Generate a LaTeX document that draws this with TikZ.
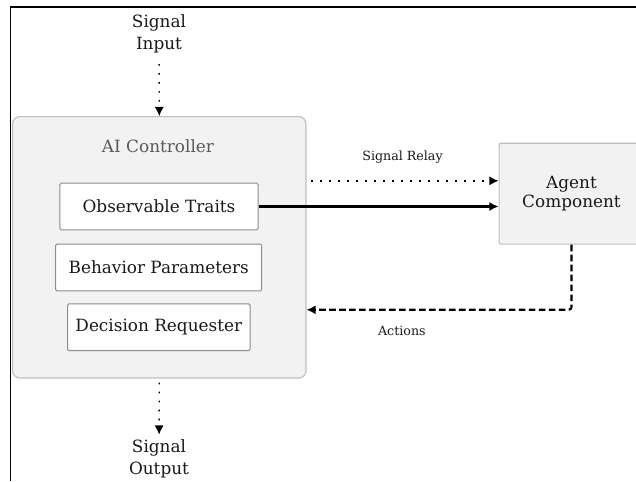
\documentclass[tikz,border=0pt]{standalone}
\usepackage{fontspec}
\setmainfont{DejaVu Serif}
\usepackage{xcolor}
\usetikzlibrary{arrows.meta, positioning}

\begin{document}
\begin{tikzpicture}[
      x=0.025cm, y=-0.025cm,
      every node/.style={font=\fontsize{12}{15}\selectfont, text=black!90},
      ctrlbox/.style={
         rectangle,
         rounded corners=5pt,
         draw=black!25,
         line width=0.8pt,
         fill=black!5,
         minimum width=7.33cm,
         minimum height=6.53cm},
      partbox/.style={
         rectangle,
         rounded corners=1pt,
         draw=black!45,
         line width=0.7pt,
         fill=white,
         minimum height=1.17cm},
      agentbox/.style={
         rectangle,
         rounded corners=1pt,
         draw=black!25,
         line width=0.8pt,
         fill=black!5,
         minimum width=3.62cm,
         minimum height=2.52cm,
         align=center,
         font=\fontsize{12}{13.5}\selectfont},
      sigtext/.style={align=center, font=\fontsize{12}{16}\selectfont},
      edgelabel/.style={font=\fontsize{9}{11}\selectfont},
      dotarrow/.style={-{Latex[length=6.5pt,width=6.5pt]}, line width=1pt,
         dash pattern=on 1.2pt off 5.2pt},
      dasharrow/.style={-{Latex[length=6.5pt,width=6.5pt]}, line width=1.5pt,
         dash pattern=on 4.7pt off 2.4pt},
      solidarrow/.style={-{Latex[length=6.5pt,width=6.5pt]}, line width=1.6pt}
      ]
      \useasboundingbox (0,0) rectangle (636,481);
      % outer frame (top and left edges only)
      \draw[line width=0.8pt] (10.5,481) -- (10.5,7) -- (636,7);

      % controller and its parts
      \node[ctrlbox]  at (159.3, 247.3) (ctrl) {};
      \node[text=black!65] at (158, 146) (ctrltitle) {AI Controller};
      \node[partbox, minimum width=4.95cm] at (159, 206.5) (traits) {Observable Traits};
      \node[partbox, minimum width=5.15cm] at (158.7, 267.5) (params) {Behavior Parameters};
      \node[partbox, minimum width=4.56cm] at (158.8, 327.2) (requester) {Decision Requester};

      \node[agentbox] at (571.5, 193.7) (agent) {Agent\\Component};

      \node[sigtext]  at (159, 34) (sigin) {Signal\\Input};
      \node[sigtext]  at (159, 459) (sigout) {Signal\\Output};

      % connectors
      \draw[dotarrow, shorten <=4pt] (sigin) -- (ctrl.north);
      \draw[dotarrow, shorten <=3pt] (ctrl.south) -- (sigout);
      \draw[dotarrow, shorten <=3.5pt] (ctrl.east |- agent.170) --
         node[edgelabel, above=0.3cm] (relaylabel) {Signal Relay} (agent.170);
      \draw[solidarrow] (traits.east) -- (traits.east -| agent.west);
      \draw[dasharrow, rounded corners=2pt] (agent.south) |-
         node[edgelabel, below=0.26cm, pos=0.82] (actlabel) {Actions} (ctrl.-23.7);

\end{tikzpicture}
\end{document}
